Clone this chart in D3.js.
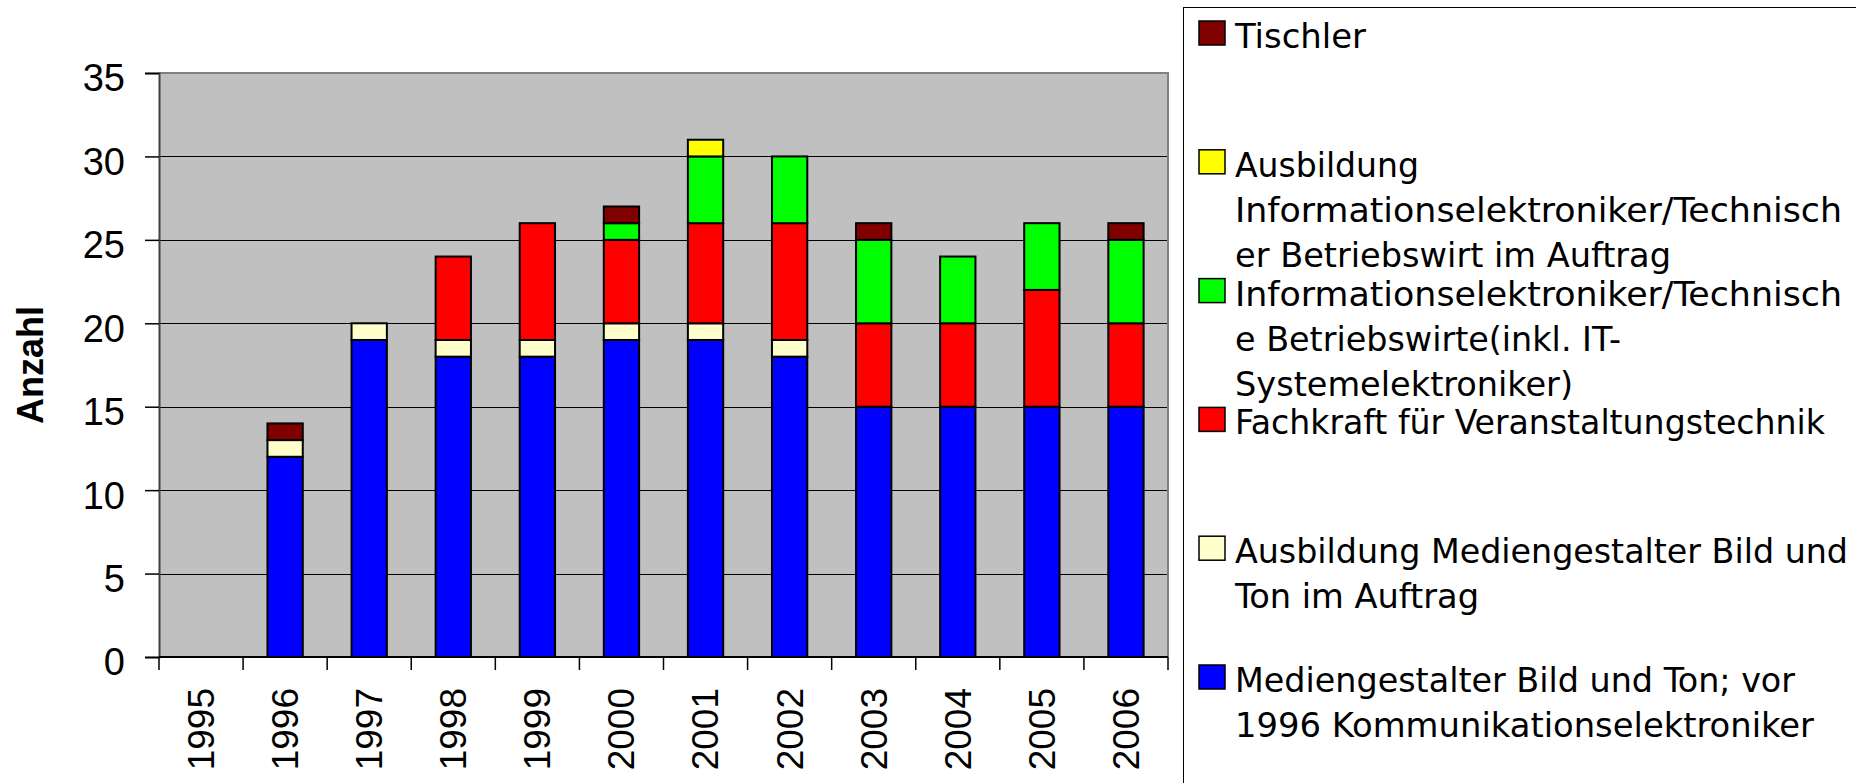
<!DOCTYPE html>
<html>
<head>
<meta charset="utf-8">
<script src="https://cdn.jsdelivr.net/npm/d3@7"></script>
<style>
  html, body { margin: 0; padding: 0; background: #fff; }
  svg { display: block; }
</style>
</head>
<body>
<svg id="chart" width="1856" height="783"></svg>
<script>
const years = ["1995","1996","1997","1998","1999","2000","2001","2002","2003","2004","2005","2006"];
const mediengestalter = [0,12,19,18,18,19,19,18,15,15,15,15];
const ausbMedien      = [0,1,1,1,1,1,1,1,0,0,0,0];
const fachkraft       = [0,0,0,5,7,5,6,7,5,5,7,5];
const infoelektro     = [0,0,0,0,0,1,4,4,5,4,4,5];
const ausbInfo        = [0,0,0,0,0,0,1,0,0,0,0,0];
const tischler        = [0,1,0,0,0,1,0,0,1,0,0,1];
const yTicks = [0,5,10,15,20,25,30,35];

const seriesKeys = ["medien","ausbMedien","fachkraft","info","ausbInfo","tischler"];
const seriesValues = {medien: mediengestalter, ausbMedien: ausbMedien, fachkraft: fachkraft, info: infoelektro, ausbInfo: ausbInfo, tischler: tischler};
const colors = {medien:"#0000FF", ausbMedien:"#FFFFCC", fachkraft:"#FF0000", info:"#00FF00", ausbInfo:"#FFFF00", tischler:"#800000"};
const legendItems = [
  {key:"tischler", lines:["Tischler"]},
  {key:"ausbInfo", lines:["Ausbildung","Informationselektroniker/Technisch","er Betriebswirt im Auftrag"]},
  {key:"info", lines:["Informationselektroniker/Technisch","e Betriebswirte(inkl. IT-","Systemelektroniker)"]},
  {key:"fachkraft", lines:["Fachkraft für Veranstaltungstechnik"]},
  {key:"ausbMedien", lines:["Ausbildung Mediengestalter Bild und","Ton im Auftrag"]},
  {key:"medien", lines:["Mediengestalter Bild und Ton; vor","1996 Kommunikationselektroniker"]}
];
// layout: rendered widths (px) of each legend line, to mimic the reference font's proportions
const legendLineWidths = [
  [131],
  [184, 607, 436],
  [607, 386, 338],
  [590],
  [613, 244],
  [560, 579]
];

const table = years.map((y,i) => {
  const o = {year: y};
  seriesKeys.forEach(k => o[k] = seriesValues[k][i]);
  return o;
});

const svg = d3.select("#chart");
const L = 159, R = 1168, T = 73, B = 657;

const x = d3.scaleBand().domain(years).range([L, R]).paddingInner(0).paddingOuter(0);
const y = d3.scaleLinear().domain([0, 35]).range([B, T]);

// plot background
svg.append("rect").attr("x", L).attr("y", T).attr("width", R - L).attr("height", B - T)
  .attr("fill", "#C0C0C0");

// gridlines
svg.append("g").selectAll("line").data(yTicks.filter(v => v > 0 && v < 35)).join("line")
  .attr("x1", L).attr("x2", R)
  .attr("y1", d => Math.round(y(d)) + 0.5).attr("y2", d => Math.round(y(d)) + 0.5)
  .attr("stroke", "#000").attr("stroke-width", 1);

// plot border (top & right)
svg.append("path")
  .attr("d", `M${L},${T} L${R},${T} L${R},${B}`)
  .attr("fill", "none").attr("stroke", "#808080").attr("stroke-width", 2);

// stacked bars
const stack = d3.stack().keys(seriesKeys);
const stacked = stack(table);
const bw = x.bandwidth() * 0.42;
svg.append("g").selectAll("g").data(stacked).join("g")
  .attr("fill", d => colors[d.key])
  .selectAll("rect").data(d => d.filter(p => p[1] - p[0] > 0)).join("rect")
  .attr("x", d => x(d.data.year) + (x.bandwidth() - bw) / 2)
  .attr("width", bw)
  .attr("y", d => y(d[1]))
  .attr("height", d => y(d[0]) - y(d[1]))
  .attr("stroke", "#000").attr("stroke-width", 2);

// y axis
const yAxis = d3.axisLeft(y).tickValues(yTicks).tickSize(14).tickPadding(20);
const gy = svg.append("g").attr("transform", `translate(${L},0)`).call(yAxis);
gy.select(".domain").attr("stroke", "#404040").attr("stroke-width", 2);
gy.selectAll(".tick line").attr("stroke", "#000").attr("stroke-width", 1.5);
gy.selectAll(".tick text").attr("font-family", "'Liberation Sans', Arial, sans-serif")
  .attr("font-size", 38).attr("fill", "#000").attr("dy", "0.47em");

// x axis line
svg.append("line").attr("x1", L).attr("x2", R).attr("y1", B).attr("y2", B)
  .attr("stroke", "#000").attr("stroke-width", 2);
// x ticks at band boundaries
const boundaries = years.map(yr => x(yr)).concat([x(years[years.length-1]) + x.bandwidth()]);
svg.append("g").selectAll("line").data(boundaries).join("line")
  .attr("x1", d => d).attr("x2", d => d).attr("y1", B).attr("y2", B + 13)
  .attr("stroke", "#000").attr("stroke-width", 1.5);
// x labels
svg.append("g").selectAll("text").data(years).join("text")
  .attr("transform", d => `translate(${x(d) + x.bandwidth()/2},688) rotate(-90)`)
  .attr("text-anchor", "end").attr("dy", "0.35em")
  .attr("font-family", "'Liberation Sans', Arial, sans-serif").attr("font-size", 37)
  .attr("fill", "#000").text(d => d);

// y title
svg.append("text").attr("transform", `translate(43,365) rotate(-90)`)
  .attr("text-anchor", "middle")
  .attr("font-family", "'Liberation Sans', Arial, sans-serif").attr("font-weight", "bold")
  .attr("font-size", 36).attr("fill", "#000").text("Anzahl");

// legend
const lg = svg.append("g");
lg.append("rect").attr("x", 1183.5).attr("y", 7.5).attr("width", 1000).attr("height", 1000)
  .attr("fill", "#fff").attr("stroke", "#000").attr("stroke-width", 1);

const legendFont = "'DejaVu Sans Condensed', 'DejaVu Sans', sans-serif";
const lfs = 34;

const slot = 128.8;
const legendY = d3.scaleLinear().domain([0, 1]).range([21, 21 + slot]);
legendItems.forEach((it, i) => {
  const top = legendY(i);
  lg.append("rect").attr("x", 1199).attr("y", top).attr("width", 26).attr("height", 24)
    .attr("fill", colors[it.key]).attr("stroke", "#000").attr("stroke-width", 1.5);
  it.lines.forEach((ln, j) => {
    lg.append("text").attr("x", 1235).attr("y", top + 27 + j * 45)
      .attr("font-family", legendFont).attr("font-size", lfs).attr("fill", "#000")
      .attr("textLength", legendLineWidths[i][j]).attr("lengthAdjust", "spacingAndGlyphs")
      .text(ln);
  });
});
</script>
</body>
</html>
